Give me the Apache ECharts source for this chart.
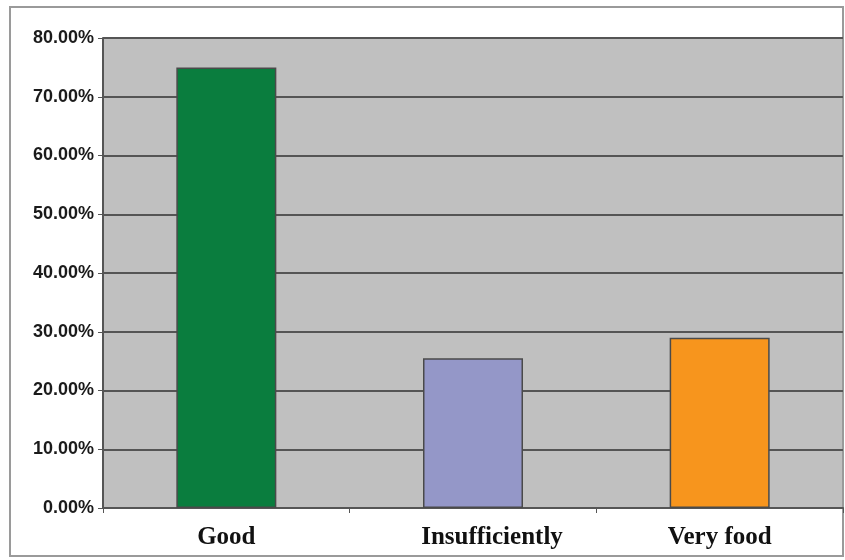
<!DOCTYPE html>
<html>
<head>
<meta charset="utf-8">
<script src="https://cdn.jsdelivr.net/npm/echarts@6/dist/echarts.min.js"></script>
<style>
  html, body { margin: 0; padding: 0; background: #ffffff; }
  #chart { width: 845px; height: 560px; }
</style>
</head>
<body>
<div id="chart"></div>
<script>
// Rating categories and their shares (percent)
const categories = ['Good', 'Insufficiently', 'Very food'];
const shares = [75.0, 25.5, 29.0];
const barColors = ['#0a7d3e', '#9497c8', '#f7951d'];
const yTicks = { min: 0, max: 80, step: 10 };

const chart = echarts.init(document.getElementById('chart'));

// the middle category label sits a little right of its bar
const categoryItems = categories.map((name, i) => i === 1
  ? { value: name, textStyle: { padding: [0, 0, 0, 38] } }
  : name);

chart.setOption({
  backgroundColor: '#ffffff',
  animation: false,
  graphic: [{
    type: 'rect',
    shape: { x: 10, y: 7, width: 833, height: 549 },
    style: { fill: 'none', stroke: '#9a9a9a', lineWidth: 2 },
    silent: true
  }],
  grid: { left: 103, right: 2, top: 38, bottom: 52, backgroundColor: '#c0c0c0', show: true, borderWidth: 0 },
  xAxis: {
    type: 'category',
    data: categoryItems,
    axisLine: { show: true, lineStyle: { color: '#555', width: 2 } },
    axisTick: { show: true, length: 5, lineStyle: { color: '#555' } },
    axisLabel: { color: '#111', fontFamily: 'Liberation Serif, Times New Roman, serif', fontWeight: 'bold', fontSize: 25, margin: 17 }
  },
  yAxis: {
    type: 'value',
    min: yTicks.min,
    max: yTicks.max,
    interval: yTicks.step,
    axisLine: { show: true, lineStyle: { color: '#555', width: 2 } },
    axisTick: { show: true, length: 5, lineStyle: { color: '#555' } },
    splitLine: { show: true, lineStyle: { color: '#555', width: 2 } },
    axisLabel: {
      color: '#1a1a1a',
      fontFamily: 'Liberation Sans, Arial, sans-serif',
      fontWeight: 'bold',
      fontSize: 18,
      margin: 9,
      formatter: v => v.toFixed(2) + '%'
    }
  },
  series: [{
    type: 'bar',
    barWidth: 100,
    data: shares.map((v, i) => ({
      value: v,
      itemStyle: { color: barColors[i], borderColor: '#4a4a4a', borderWidth: 1.5 }
    }))
  }]
});
</script>
</body>
</html>
